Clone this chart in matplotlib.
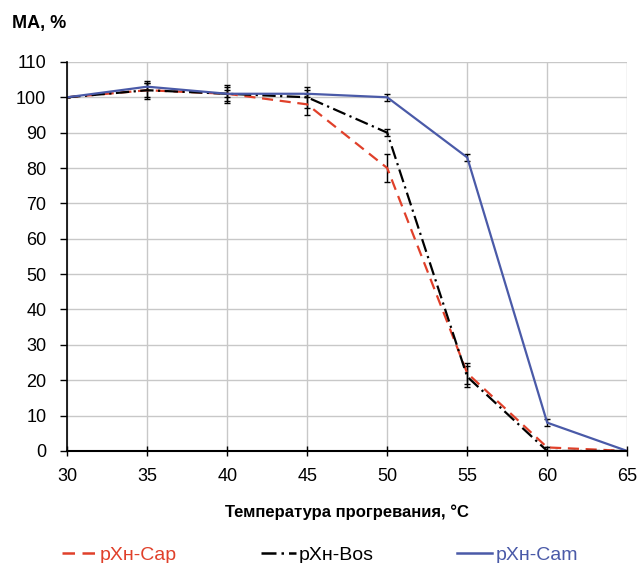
import matplotlib
matplotlib.use("Agg")
import matplotlib.pyplot as plt
from matplotlib.lines import Line2D

temps = [30, 35, 40, 45, 50, 55, 60, 65]
cap = [100, 102, 101, 98, 80, 22, 1, 0]
cap_err = [0, 2, 2, 3, 4, 3, 0, 0]
bos = [100, 102, 101, 100, 90, 21, 0, 0]
bos_err = [0, 2.5, 2.5, 3, 1, 3, 0, 0]
cam = [100, 103, 101, 101, 100, 83, 8, 0]
cam_err = [0, 1, 1, 1, 1, 1, 1, 0]
yticks = list(range(0, 111, 10))
names = ['pXн-Cap', 'pXн-Bos', 'pXн-Cam']
colors = ['#e0402a', 'black', '#4a5aa8']
styles = [(0, (5, 3)), (0, (6, 2, 1, 2)), '-']

plt.rcParams['font.family'] = ['Liberation Sans', 'DejaVu Sans']
fig = plt.figure(figsize=(6.4, 5.63), dpi=100)
ax = fig.add_axes([0.105, 0.199, 0.875, 0.691])

ekw = dict(ecolor='black', elinewidth=1, capsize=2.5, capthick=1)
for ys, es, c, ls in zip([cap, bos, cam], [cap_err, bos_err, cam_err], colors, styles):
    ax.errorbar(temps, ys, yerr=es, color=c, linestyle=ls, lw=1.6, **ekw)

ax.set_xlim(30, 65)
ax.set_ylim(0, 110)
ax.set_xticks(temps)
ax.set_yticks(yticks)
ax.grid(True, color='#c8c8c8', lw=1)
ax.set_axisbelow(True)
for s in ['top', 'right']:
    ax.spines[s].set_visible(False)
ax.spines['left'].set_linewidth(1.2)
ax.spines['bottom'].set_linewidth(1.5)
ax.tick_params(axis='x', labelsize=13, direction='inout', length=7, width=1, pad=9)
ax.tick_params(axis='y', labelsize=13, direction='out', length=5, width=1, pad=10)
ax.set_xlabel('Температура прогревания, °C', fontsize=12, fontweight='bold', labelpad=14)
fig.text(0.018, 0.959, 'MA, %', fontsize=13, fontweight='bold', ha='left', va='center')

handles = [Line2D([], [], color=c, linestyle=ls, lw=1.8) for c, ls in zip(colors, styles)]
leg = fig.legend(handles=handles, labels=names, loc='lower center', bbox_to_anchor=(0.5, -0.033), ncol=3,
                 frameon=False, fontsize=14, handlelength=1.8, handletextpad=0.15, columnspacing=4.3)
for t, c in zip(leg.get_texts(), colors):
    t.set_color(c)

fig.savefig('out.png', dpi=100)
